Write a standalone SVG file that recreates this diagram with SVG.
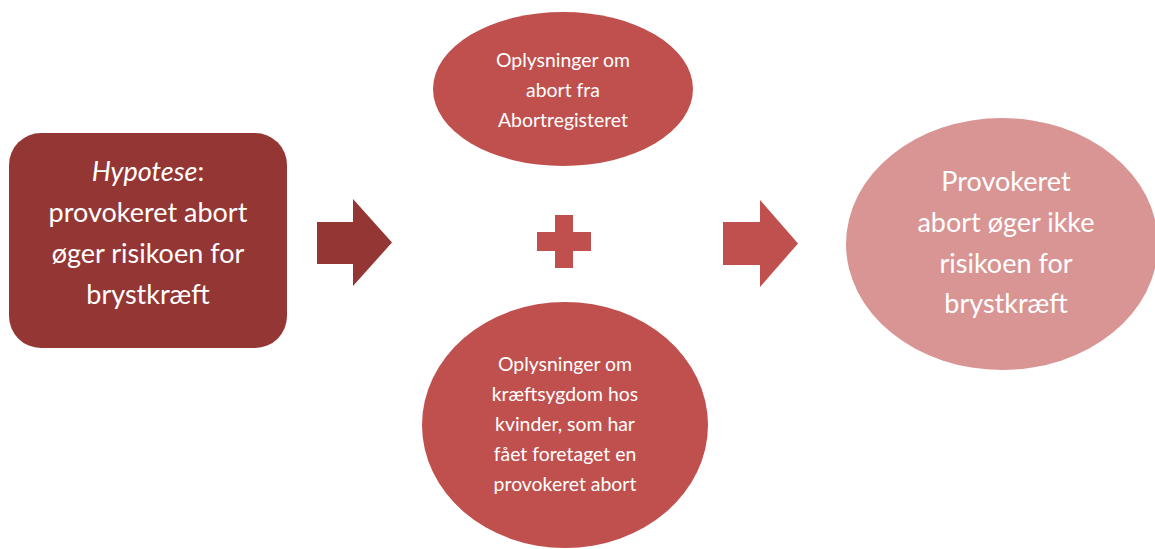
<svg xmlns="http://www.w3.org/2000/svg" width="1155" height="549" viewBox="0 0 1155 549">
  <style>
    .lbl { font-family: Lato, "Open Sans", "Liberation Sans", sans-serif; fill: #FFFFFF; text-anchor: middle; }
    .big { font-size: 27px; }
    .small { font-size: 19.4px; }
    .dark { fill: #943634; }
    .mid { fill: #C0504D; }
    .light { fill: #D99594; }
  </style>

  <!-- Hypothesis box -->
  <g id="hypothesis">
    <rect class="dark" x="9" y="133" width="278" height="215" rx="32" ry="32"/>
    <text class="lbl big" x="148" y="181"><tspan font-style="italic">Hypotese</tspan>:</text>
    <text class="lbl big" x="148" y="222">provokeret abort</text>
    <text class="lbl big" x="148" y="263">øger risikoen for</text>
    <text class="lbl big" x="148" y="304">brystkræft</text>
  </g>

  <!-- Data source: abortion register -->
  <g id="abort-register">
    <ellipse class="mid" cx="563" cy="89" rx="130" ry="77"/>
    <text class="lbl small" x="563" y="67">Oplysninger om</text>
    <text class="lbl small" x="563" y="97">abort fra</text>
    <text class="lbl small" x="563" y="127">Abortregisteret</text>
  </g>

  <!-- Data source: cancer data -->
  <g id="cancer-data">
    <ellipse class="mid" cx="565" cy="425" rx="143" ry="123"/>
    <text class="lbl small" x="565" y="371">Oplysninger om</text>
    <text class="lbl small" x="565" y="401">kræftsygdom hos</text>
    <text class="lbl small" x="565" y="431">kvinder, som har</text>
    <text class="lbl small" x="565" y="461">fået foretaget en</text>
    <text class="lbl small" x="565" y="491">provokeret abort</text>
  </g>

  <!-- Conclusion -->
  <g id="conclusion">
    <ellipse class="light" cx="1002" cy="244" rx="156" ry="126"/>
    <text class="lbl big" x="1006" y="191">Provokeret</text>
    <text class="lbl big" x="1006" y="232">abort øger ikke</text>
    <text class="lbl big" x="1006" y="273">risikoen for</text>
    <text class="lbl big" x="1006" y="313">brystkræft</text>
  </g>

  <!-- Block arrows and plus sign -->
  <g id="connectors">
    <polygon class="dark" points="317,222 353,222 353,199 392,242.5 353,286 353,264 317,264"/>
    <polygon class="mid" points="537,232 555,232 555,215 573,215 573,232 591,232 591,251 573,251 573,268 555,268 555,251 537,251"/>
    <polygon class="mid" points="723,222 760,222 760,200 798,243.5 760,287 760,265 723,265"/>
  </g>
</svg>
